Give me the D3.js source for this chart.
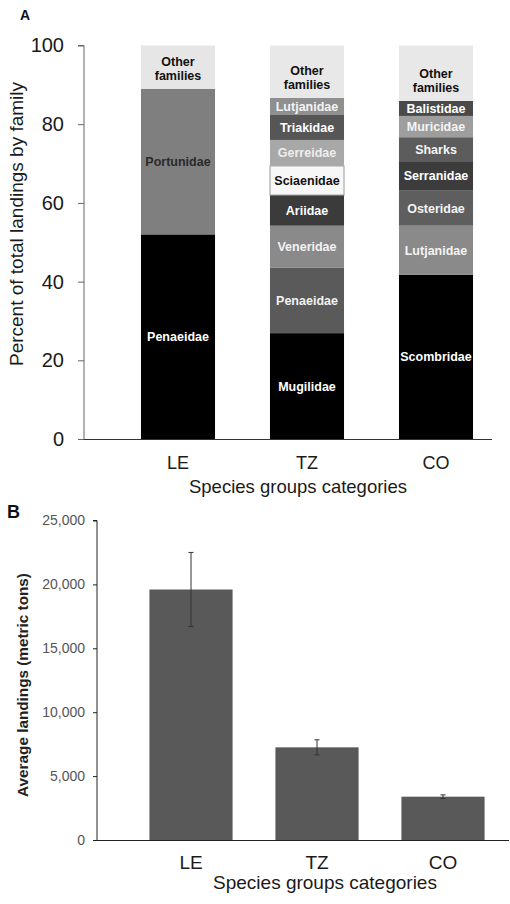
<!DOCTYPE html>
<html>
<head>
<meta charset="utf-8">
<script src="https://cdn.jsdelivr.net/npm/d3@7"></script>
<style>
  html, body { margin: 0; padding: 0; background: #fff; }
  svg { display: block; font-family: "Liberation Sans", Arial, Helvetica, sans-serif; }
</style>
</head>
<body>
<svg id="chart" width="510" height="904"></svg>
<script>
// ---------------- DATA ----------------
const categories = ["LE", "TZ", "CO"];

// Panel A: family composition (percent), bottom to top
const leFamilies = ["Penaeidae", "Portunidae", "Other families"];
const leValues   = [52.0, 37.0, 11.0];

const tzFamilies = ["Mugilidae", "Penaeidae", "Veneridae", "Ariidae", "Sciaenidae", "Gerreidae", "Triakidae", "Lutjanidae", "Other families"];
const tzValues   = [26.9, 16.7, 10.6, 7.8, 7.4, 6.6, 6.5, 4.2, 13.3];

const coFamilies = ["Scombridae", "Lutjanidae", "Osteridae", "Serranidae", "Sharks", "Muricidae", "Balistidae", "Other families"];
const coValues   = [41.7, 12.5, 8.9, 7.5, 6.1, 5.4, 3.8, 14.1];

const percentTicks = [0, 20, 40, 60, 80, 100];

// Panel B: average landings (metric tons) with error
const avgLandings   = [19600, 7250, 3390];
const landingErrors = [2900, 590, 140];
const landingTicks  = [0, 5000, 10000, 15000, 20000, 25000];

// ---------------- STYLES ----------------
const segFill = {
  "LE": ["#000000", "#7f7f7f", "#e6e6e6"],
  "TZ": ["#000000", "#5a5a5a", "#8a8a8a", "#3b3b3b", "#f7f7f7", "#a8a8a8", "#565656", "#8f8f8f", "#e8e8e8"],
  "CO": ["#000000", "#8a8a8a", "#5e5e5e", "#3c3c3c", "#5c5c5c", "#9e9e9e", "#4a4a4a", "#e8e8e8"]
};
const segText = {
  "LE": ["#ffffff", "#2a2a2a", "#111111"],
  "TZ": ["#ffffff", "#f2f2f2", "#f2f2f2", "#ffffff", "#111111", "#eeeeee", "#ffffff", "#f4f4f4", "#111111"],
  "CO": ["#ffffff", "#f4f4f4", "#f4f4f4", "#ffffff", "#f4f4f4", "#f4f4f4", "#ffffff", "#111111"]
};

const groups = {
  "LE": { fam: leFamilies, val: leValues },
  "TZ": { fam: tzFamilies, val: tzValues },
  "CO": { fam: coFamilies, val: coValues }
};

const svg = d3.select("#chart");

// ================= PANEL A =================
const gA = svg.append("g");
const xA = d3.scaleBand().domain(categories).range([113.5, 500.5]).paddingInner(0.426).paddingOuter(0.213);
const yA = d3.scaleLinear().domain([0, 100]).range([439, 45.5]);

categories.forEach(cat => {
  const g = groups[cat];
  let cum = 0;
  const segs = g.val.map((v, i) => {
    const s = { cat, fam: g.fam[i], y0: cum, y1: cum + v, i };
    cum += v;
    return s;
  });
  const cg = gA.append("g");
  cg.selectAll("rect").data(segs).enter().append("rect")
    .attr("x", xA(cat))
    .attr("width", xA.bandwidth())
    .attr("y", d => yA(d.y1))
    .attr("height", d => yA(d.y0) - yA(d.y1))
    .attr("fill", d => segFill[cat][d.i])
    .attr("stroke", d => d.fam === "Sciaenidae" ? "#9a9a9a" : "none")
    .attr("stroke-width", 1);

  segs.forEach(d => {
    const cx = xA(cat) + xA.bandwidth() / 2;
    const cy = (yA(d.y0) + yA(d.y1)) / 2;
    const t = cg.append("text")
      .attr("x", cx)
      .attr("text-anchor", "middle")
      .attr("font-weight", "bold")
      .attr("font-size", "12.5px")
      .attr("fill", segText[cat][d.i]);
    if (d.fam === "Other families") {
      const bottom = yA(d.y0);
      t.append("tspan").attr("x", cx).attr("y", bottom - 27 + 4.5).text("Other");
      t.append("tspan").attr("x", cx).attr("y", bottom - 13 + 4.5).text("families");
    } else {
      t.attr("y", cy + 4.5).text(d.fam);
    }
  });
});

const yAxisA = d3.axisLeft(yA).tickValues(percentTicks).tickSize(6).tickPadding(14);
const gyA = gA.append("g").attr("transform", "translate(84,0)").call(yAxisA);
gyA.select(".domain").attr("stroke", "#666").attr("d", `M-6,${yA(100)}H0V${yA(0)}`);
gyA.selectAll(".tick line").attr("stroke", "#666");
gyA.selectAll(".tick text").attr("font-size", "20px").attr("fill", "#1a1a1a")
  .attr("font-family", "'Liberation Sans', Arial, sans-serif");

const xAxisA = d3.axisBottom(xA).tickSize(0).tickPadding(17);
const gxA = gA.append("g").attr("transform", `translate(0,${yA(0)})`).call(xAxisA);
gxA.select(".domain").attr("d", "M84,0.5H492").attr("stroke", "#333");
gxA.selectAll(".tick text").attr("font-size", "18px").attr("fill", "#1a1a1a")
  .attr("font-family", "'Liberation Sans', Arial, sans-serif");

gA.append("text").attr("x", 298).attr("y", 493).attr("text-anchor", "middle")
  .attr("font-size", "18.5px").attr("fill", "#1a1a1a").text("Species groups categories");
gA.append("text").attr("transform", "translate(23,224) rotate(-90)").attr("text-anchor", "middle")
  .attr("font-size", "19px").attr("fill", "#1a1a1a").text("Percent of total landings by family");
gA.append("text").attr("x", 20).attr("y", 20).attr("font-size", "14px").attr("font-weight", "bold")
  .attr("fill", "#111").text("A");

// ================= PANEL B =================
const gB = svg.append("g");
const xB = d3.scaleBand().domain(categories).range([128, 506]).paddingInner(0.34).paddingOuter(0.17);
const yB = d3.scaleLinear().domain([0, 25000]).range([840, 520.5]);

gB.selectAll("rect.bar").data(categories).enter().append("rect")
  .attr("class", "bar")
  .attr("x", d => xB(d))
  .attr("width", xB.bandwidth())
  .attr("y", (d, i) => yB(avgLandings[i]))
  .attr("height", (d, i) => yB(0) - yB(avgLandings[i]))
  .attr("fill", "#595959");

const eg = gB.selectAll("g.err").data(categories).enter().append("g").attr("class", "err");
eg.append("line")
  .attr("x1", d => xB(d) + xB.bandwidth() / 2).attr("x2", d => xB(d) + xB.bandwidth() / 2)
  .attr("y1", (d, i) => yB(avgLandings[i] + landingErrors[i]))
  .attr("y2", (d, i) => yB(avgLandings[i] - landingErrors[i]))
  .attr("stroke", "#333").attr("stroke-width", 1);
[1, -1].forEach(sgn => {
  eg.append("line")
    .attr("x1", d => xB(d) + xB.bandwidth() / 2 - 2.5).attr("x2", d => xB(d) + xB.bandwidth() / 2 + 2.5)
    .attr("y1", (d, i) => yB(avgLandings[i] + sgn * landingErrors[i]))
    .attr("y2", (d, i) => yB(avgLandings[i] + sgn * landingErrors[i]))
    .attr("stroke", "#333").attr("stroke-width", 1);
});

const yAxisB = d3.axisLeft(yB).tickValues(landingTicks).tickFormat(d3.format(",")).tickSize(4).tickPadding(8);
const gyB = gB.append("g").attr("transform", "translate(97,0)").call(yAxisB);
gyB.select(".domain").attr("stroke", "#222").attr("d", `M-4,${yB(25000)}H0V${yB(0)}`);
gyB.selectAll(".tick line").attr("stroke", "#222");
gyB.selectAll(".tick text").attr("font-size", "14px").attr("fill", "#555")
  .attr("font-family", "'Liberation Sans', Arial, sans-serif");

const xAxisB = d3.axisBottom(xB).tickSize(0).tickPadding(16);
const gxB = gB.append("g").attr("transform", `translate(0,${yB(0)})`).call(xAxisB);
gxB.select(".domain").attr("d", "M97,0.5H509").attr("stroke", "#222");
gxB.selectAll(".tick text").attr("font-size", "19px").attr("fill", "#1a1a1a")
  .attr("font-family", "'Liberation Sans', Arial, sans-serif");

gB.append("text").attr("x", 325).attr("y", 889).attr("text-anchor", "middle")
  .attr("font-size", "19px").attr("fill", "#1a1a1a").text("Species groups categories");
gB.append("text").attr("transform", "translate(28,685) rotate(-90)").attr("text-anchor", "middle")
  .attr("font-size", "15.3px").attr("font-weight", "bold").attr("fill", "#222").text("Average landings (metric tons)");
gB.append("text").attr("x", 7).attr("y", 518).attr("font-size", "18px").attr("font-weight", "bold")
  .attr("fill", "#111").text("B");
</script>
</body>
</html>
